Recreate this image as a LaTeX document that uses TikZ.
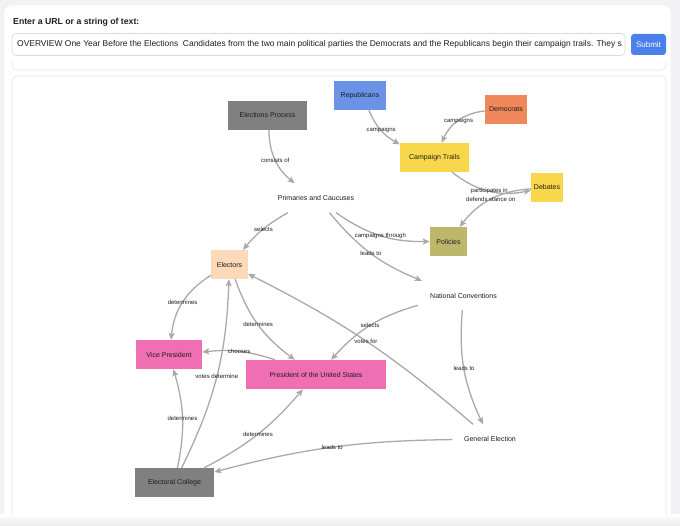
\documentclass[tikz,border=0pt]{standalone}
\usepackage{fontspec}
\setmainfont{Liberation Sans}
\usetikzlibrary{arrows.meta}
\definecolor{pagebg}{HTML}{F2F2F4}
\definecolor{cardline}{HTML}{E4E4E6}
\definecolor{inputline}{HTML}{D9D9DC}
\definecolor{btnblue}{HTML}{4B80EA}
\definecolor{nodegray}{HTML}{808080}
\definecolor{repblue}{HTML}{6A93E8}
\definecolor{demorange}{HTML}{F0885C}
\definecolor{trailyellow}{HTML}{F8D84A}
\definecolor{polkhaki}{HTML}{BDB76B}
\definecolor{elecpeach}{HTML}{FBD9B9}
\definecolor{prespink}{HTML}{F06EB4}
\definecolor{linkgray}{HTML}{A9A9A9}
\definecolor{inktext}{HTML}{1E1E1E}
\tikzset{
  box/.style={rectangle, inner sep=0pt, minimum height=29pt, text=inktext,
    font=\fontsize{7}{8}\selectfont},
  lbl/.style={inner sep=0pt, text=inktext, font=\fontsize{6}{7}\selectfont},
  link/.style={draw=linkgray, line width=1.3pt,
    -{Stealth[length=7pt,width=6pt,inset=1.5pt]}},
}
\begin{document}
\begin{tikzpicture}[x=1pt,y=-1pt]
\useasboundingbox (0,0) rectangle (680,526);
% page and cards
\fill[pagebg] (0,0) rectangle (680,526);
\filldraw[fill=white, draw=cardline, rounded corners=6pt] (4,5) rectangle (671,545);
\node[anchor=west, inner sep=0pt, text=inktext, font=\fontsize{8.7}{10}\selectfont\bfseries] (hdr) at (13,22.5) {Enter a URL or a string of text:};
\filldraw[fill=white, draw=inputline, line width=0.6pt, rounded corners=4pt] (12,33.5) rectangle (625,55.5);
\node[anchor=west, inner sep=0pt, text=inktext, font=\fontsize{8.45}{10}\selectfont] (inp) at (17,44.5) {OVERVIEW One Year Before the Elections\ \ Candidates from the two main political parties the Democrats and the Republicans begin their campaign trails. They s};
\node[fill=btnblue, rounded corners=3pt, minimum width=35pt, minimum height=21pt, inner sep=0pt, text=white, font=\fontsize{8}{10}\selectfont] (submit) at (648.5,44.5) {Submit};
\draw[cardline, line width=0.6pt, rounded corners=5pt] (12,62) -- (12,70) -- (666,70) -- (666,62);
\filldraw[fill=white, draw=cardline, line width=0.6pt, rounded corners=5pt] (12,76) rectangle (666,545);
\shade[top color=white, bottom color=black!8, draw=none] (0,514) rectangle (680,526);

% nodes
\node[box, fill=nodegray, minimum width=79pt] (ep) at (267.5,115.5) {Elections Process};
\node[box, fill=repblue, minimum width=52pt] (rep) at (360,95.5) {Republicans};
\node[box, fill=demorange, minimum width=42pt] (dem) at (506,109.5) {Democrats};
\node[box, fill=trailyellow, minimum width=69pt] (ct) at (434.5,157.5) {Campaign Trails};
\node[box, fill=trailyellow, minimum width=32pt] (deb) at (547,187.5) {Debates};
\node[box, minimum width=104pt] (prim) at (316,198) {Primaries and Caucuses};
\node[box, fill=polkhaki, minimum width=37pt] (pol) at (448.5,241.5) {Policies};
\node[box, fill=elecpeach, minimum width=37pt] (elec) at (229.5,264.5) {Electors};
\node[box, minimum width=91pt] (nc) at (463.5,295.5) {National Conventions};
\node[box, fill=prespink, minimum width=66pt] (vp) at (169,354.5) {Vice President};
\node[box, fill=prespink, minimum width=140pt] (pres) at (316,374.5) {President of the United States};
\node[box, minimum width=75pt] (ge) at (490,439) {General Election};
\node[box, fill=nodegray, minimum width=79pt] (ec) at (174.5,482.5) {Electoral College};

% connectors
\draw[link] (ep) to[bend right=25] node[lbl, pos=0.5] {consists of} (prim);
\draw[link] (rep) to[bend right=19] node[lbl, pos=0.5] {campaigns} (ct);
\draw[link] (dem) to[bend right=30] node[lbl, pos=0.5] {campaigns} (ct);
\draw[link] (ct) to[bend right=25] node[lbl, pos=0.5] {participates in} (deb);
\draw[link] (deb) to[bend right=24] node[lbl, pos=0.5] {defends stance on} (pol);
\draw[link] (prim) to[bend right=10] node[lbl, pos=0.5] {selects} (elec);
\draw[link] (prim) to[bend right=18] node[lbl, pos=0.5] {campaigns through} (pol);
\draw[link] (prim) to[bend right=14] node[lbl, pos=0.5] {leads to} (nc);
\draw[link] (elec) to[bend right=26] node[lbl, pos=0.5] {determines} (vp);
\draw[link] (elec) to[bend right=17] node[lbl, pos=0.5] {determines} (pres);
\draw[link] (ge) to[bend right=7] node[lbl, pos=0.5] {votes for} (elec);
\draw[link] (nc) to[bend right=15] node[lbl, pos=0.5] {leads to} (ge);
\draw[link] (nc) to[bend right=16] node[lbl, pos=0.5] {selects} (pres);
\draw[link] (pres) to[bend right=12] node[lbl, pos=0.5] {chooses} (vp);
\draw[link] (ec) to[bend right=12] node[lbl, pos=0.5] {votes determine} (elec);
\draw[link] (ec) to[bend right=14] node[lbl, pos=0.5] {determines} (vp);
\draw[link] (ec) to[bend right=11] node[lbl, pos=0.5] {determines} (pres);
\draw[link] (ge) to[bend right=7] node[lbl, pos=0.5] {leads to} (ec);
\end{tikzpicture}
\end{document}
